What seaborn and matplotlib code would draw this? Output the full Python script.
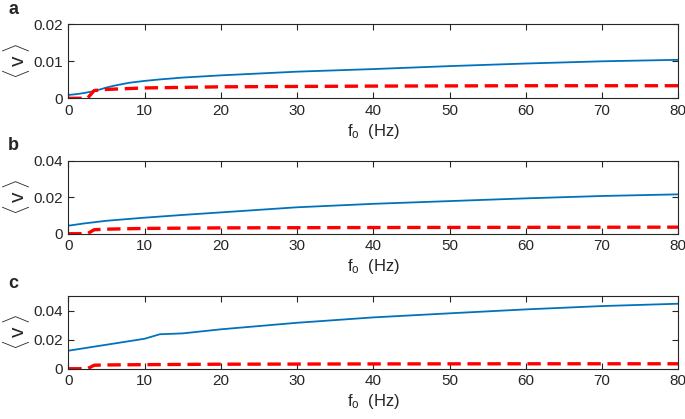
import matplotlib
matplotlib.use("Agg")
import matplotlib.pyplot as plt
import seaborn as sns
import pandas as pd

# panel a
freq_a = [0, 1, 2, 3, 4, 5, 6, 7, 8, 10, 12, 15, 20, 30, 40, 50, 60, 70, 80]
blue_a = [0.0009, 0.0011, 0.0014, 0.0018, 0.0023, 0.0029, 0.0034, 0.0038, 0.0042,
          0.0047, 0.0051, 0.0056, 0.0062, 0.0072, 0.0079, 0.0087, 0.0094, 0.0100, 0.0104]
red_freq = [0, 2.5, 3.4, 5, 10, 20, 40, 60, 80]
red_a = [0, 0, 0.0021, 0.0024, 0.0028, 0.0031, 0.0033, 0.0034, 0.0034]

# panel b
freq_b = [0, 2, 5, 10, 15, 20, 30, 40, 50, 60, 70, 80]
blue_b = [0.0044, 0.0056, 0.0071, 0.0088, 0.0103, 0.0117, 0.0145, 0.0164, 0.0179,
          0.0194, 0.0207, 0.0216]
red_b = [0, 0, 0.0022, 0.0025, 0.0029, 0.0032, 0.0034, 0.0035, 0.0036]

# panel c
freq_c = [0, 5, 10, 12, 15, 20, 30, 40, 50, 60, 70, 80]
blue_c = [0.0124, 0.0165, 0.0206, 0.0237, 0.0243, 0.0271, 0.0316, 0.0353, 0.0381,
          0.0408, 0.0431, 0.0447]
red_c = [0, 0, 0.0024, 0.0026, 0.0028, 0.0031, 0.0033, 0.0034, 0.0034]

panels = [
    ("a", freq_a, blue_a, red_a, 0.02, [0, 0.01, 0.02], ["0", "0.01", "0.02"]),
    ("b", freq_b, blue_b, red_b, 0.04, [0, 0.02, 0.04], ["0", "0.02", "0.04"]),
    ("c", freq_c, blue_c, red_c, 0.05, [0, 0.02, 0.04], ["0", "0.02", "0.04"]),
]
xticks = [0, 10, 20, 30, 40, 50, 60, 70, 80]

sns.set_style("ticks")
plt.rcParams["font.family"] = ["Liberation Sans", "DejaVu Sans"]
plt.rcParams["mathtext.fontset"] = "custom"
plt.rcParams["mathtext.rm"] = "Liberation Sans"
plt.rcParams["mathtext.it"] = "Liberation Sans"

fig = plt.figure(figsize=(6.85, 4.19), dpi=100)
bottoms = [0.7654, 0.4422, 0.120]
heights = [0.1766, 0.174, 0.1735]
label_y = [0.978, 0.652, 0.323]
grey = "#262626"

for (lab, fx, fb, fr, ymax, yt, ytl), b, h, ly in zip(panels, bottoms, heights, label_y):
    ax = fig.add_axes([0.0997, b, 0.8905, h])
    sns.lineplot(x=fx, y=fb, ax=ax, color="#0072BD", linewidth=1.3)
    sns.lineplot(x=red_freq, y=fr, ax=ax, color="red", linewidth=2.4,
                 linestyle=(0, (4, 2)))
    ax.set_xlim(0, 80)
    ax.set_ylim(0, ymax)
    ax.set_xticks(xticks)
    ax.set_yticks(yt)
    ax.set_yticklabels(ytl)
    ax.tick_params(direction="in", top=True, right=True, labelsize=11,
                   colors=grey, length=4, width=0.8, pad=4)
    for s in ax.spines.values():
        s.set_visible(True)
        s.set_color(grey)
        s.set_linewidth(0.8)
    ax.set_xlabel(r"f$_\mathrm{o}$  (Hz)", fontsize=12, color=grey, labelpad=3)
    ax.set_ylabel(r"$\langle\,\mathrm{v}\,\rangle$", fontsize=15, color=grey, labelpad=1)
    fig.text(0.012, ly, lab, fontsize=13, fontweight="bold",
             va="center", ha="left")

fig.savefig("out.png", dpi=100)
